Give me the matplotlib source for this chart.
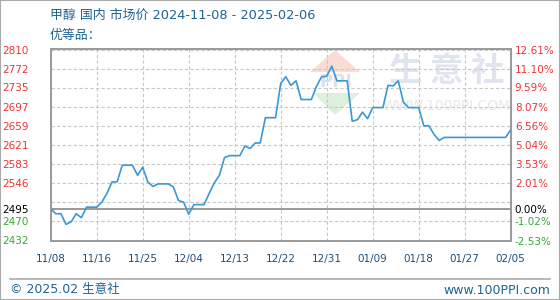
import matplotlib
matplotlib.use('Agg')
import matplotlib.pyplot as plt
import numpy as np
from matplotlib.patches import Polygon, Rectangle
from matplotlib.lines import Line2D

CJK = ['Noto Sans CJK SC', 'DejaVu Sans']
LATIN_CJK = ['DejaVu Sans', 'Noto Sans CJK SC']

# daily price, 2024-11-08 .. 2025-02-06
prices = [
    2495, 2485, 2485, 2464, 2469, 2485, 2477, 2498, 2498, 2498,
    2508, 2525, 2548, 2548, 2581, 2581, 2581, 2561, 2577, 2548,
    2539, 2544, 2544, 2544, 2538, 2511, 2508, 2484, 2503, 2503,
    2503, 2525, 2546, 2561, 2596, 2600, 2600, 2600, 2619, 2614,
    2625, 2625, 2675, 2675, 2675, 2743, 2756, 2739, 2748, 2711,
    2711, 2711, 2737, 2756, 2757, 2777, 2748, 2748, 2748, 2668,
    2671, 2686, 2673, 2695, 2695, 2695, 2739, 2738, 2748, 2706,
    2695, 2695, 2695, 2659, 2659, 2642, 2630, 2636, 2636, 2636,
    2636, 2636, 2636, 2636, 2636, 2636, 2636, 2636, 2636, 2636,
    2651,
]
base_price = 2495

x_ticks = [0, 9, 18, 27, 36, 45, 54, 63, 72, 81, 90]
x_labels = ['11/08', '11/16', '11/25', '12/04', '12/13', '12/22',
            '12/31', '01/09', '01/18', '01/27', '02/05']

y_ticks = [2432, 2470, 2495, 2546, 2583, 2621, 2659, 2697, 2735, 2772, 2810]
pct_labels = ['-2.53%', '-1.02%', '0.00%', '2.01%', '3.53%', '5.04%',
              '6.56%', '8.07%', '9.59%', '11.10%', '12.61%']

W, H = 560, 300


def px(x, y):
    return x / W, 1 - y / H


fig = plt.figure(figsize=(W / 100, H / 100), dpi=100)
fig.patch.set_facecolor('white')

ax = fig.add_axes([50.7 / W, 1 - 240.5 / H, 460 / W, 191 / H])
ax.set_xlim(0, 90)
ax.set_ylim(2432, 2810)


# watermark (axes fraction, under the line)
def afr(x, y):
    return (x - 50.7) / 460, (240.5 - y) / 191


ax.add_patch(Polygon([afr(335, 50), afr(310, 72), afr(360, 72)], closed=True,
                     transform=ax.transAxes, facecolor='#f9dcd4', edgecolor='none', zorder=0))
ax.add_patch(Polygon([afr(313, 93), afr(360, 93), afr(335, 115)], closed=True,
                     transform=ax.transAxes, facecolor='#dcf0dc', edgecolor='none', zorder=0))
ax.text(*afr(336, 82), 'PPI', transform=ax.transAxes, ha='center', va='center',
        fontsize=13, fontweight='bold', color='#dde1ea', zorder=0)
ax.text(*afr(447, 72), '生 意 社', transform=ax.transAxes, ha='center', va='center',
        fontsize=24, fontweight='bold', color='#e0e4ee', family=CJK, zorder=0)
ax.text(*afr(447, 106), 'WWW.100PPI.COM', transform=ax.transAxes, ha='center', va='center',
        fontsize=10, color='#e8e8e8', zorder=0)

for y in np.linspace(2432, 2810, 11):
    ax.axhline(y, color='#c8c8c8', lw=0.8, ls=(0, (3, 2)), zorder=1)
for x in x_ticks:
    ax.axvline(x, color='#c8c8c8', lw=0.8, ls=(0, (3, 2)), zorder=1)
ax.axhline(base_price, color='#999999', lw=1.4, zorder=2)

ax.plot(np.arange(len(prices)), prices, color='#3a98d6', lw=1.2, zorder=3)

for s in ax.spines.values():
    s.set_color('#999999')
    s.set_linewidth(1.4)

ax.set_xticks(x_ticks)
ax.set_xticklabels(x_labels)
ax.tick_params(axis='x', length=0, pad=10, labelsize=7.5, labelcolor='#1d4f7c')

ax.set_yticks(y_ticks)
ax.set_yticklabels([str(v) for v in y_ticks])
ax.tick_params(axis='y', length=0, pad=16, labelsize=7.5)


def level_color(v):
    if v > base_price:
        return '#ee3333'
    if v < base_price:
        return '#33aa33'
    return '#000000'


for lbl, v in zip(ax.get_yticklabels(), y_ticks):
    lbl.set_color(level_color(v))

ax2 = ax.twinx()
ax2.set_ylim(ax.get_ylim())
ax2.set_yticks(y_ticks)
ax2.set_yticklabels(pct_labels)
ax2.tick_params(axis='y', length=0, pad=3, labelsize=7.5)
for s in ax2.spines.values():
    s.set_visible(False)
for lbl, v in zip(ax2.get_yticklabels(), y_ticks):
    lbl.set_color(level_color(v))

# header
fig.text(*px(50, 15), '甲醇 国内 市场价 2024-11-08 - 2025-02-06', ha='left', va='center',
         fontsize=9.3, color='#1f6391', family=LATIN_CJK)
fig.text(*px(50, 35), '优等品：', ha='left', va='center',
         fontsize=9.3, color='#1f6391', family=CJK)

# footer
fig.add_artist(Line2D([10 / W, 550 / W], [1 - 279 / H] * 2, color='#aaaaaa', lw=1.2))
fig.text(*px(10, 290), '© 2025.02 生意社', ha='left', va='center',
         fontsize=9, color='#1f6391', family=LATIN_CJK)
fig.text(*px(550, 290), 'www.100PPI.com', ha='right', va='center',
         fontsize=9, color='#1f6391')

fig.add_artist(Rectangle((0, 0), 1, 1, transform=fig.transFigure, fill=False,
                         edgecolor='#aaaaaa', lw=1.5))

fig.savefig('out.png', dpi=100)
